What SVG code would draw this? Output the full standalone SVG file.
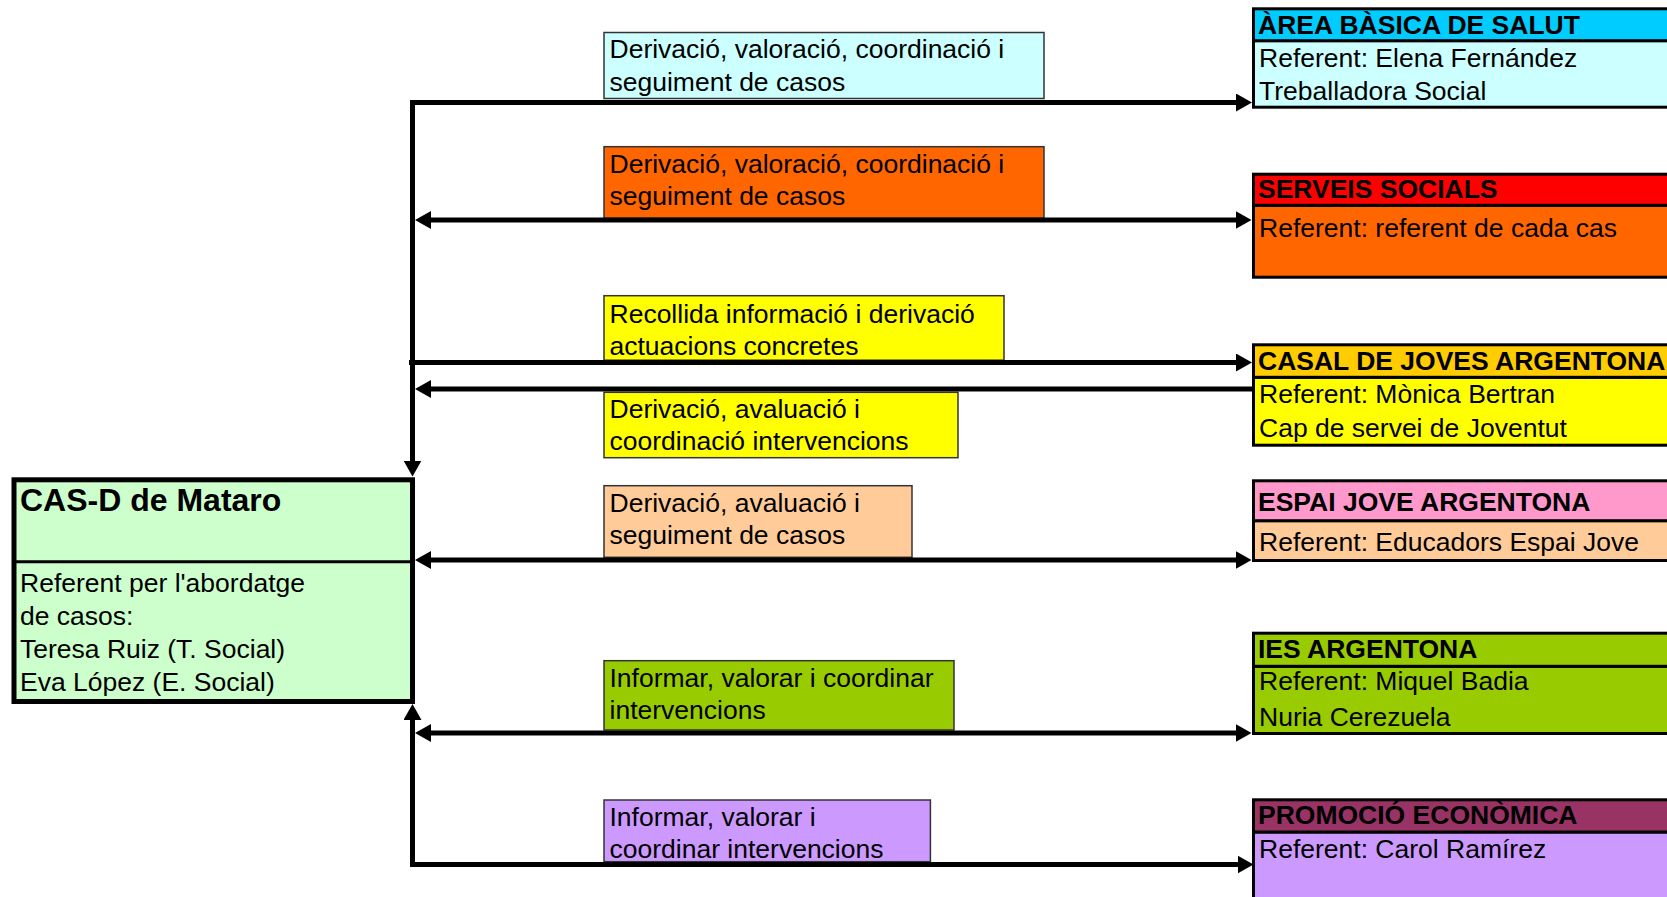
<svg xmlns="http://www.w3.org/2000/svg" width="1667" height="897" viewBox="0 0 1667 897">
<style>
text{font-family:"Liberation Sans",Arial,sans-serif;font-size:26.5px;fill:#000}
.b{font-weight:bold}
.t{font-weight:bold;font-size:32px}
.lbl{stroke:#333;stroke-width:1.5}
.nb{stroke:#000;stroke-width:3}
.dv{stroke:#000;stroke-width:3}
.cn{fill:none;stroke:#000;stroke-width:5}
</style>
<defs>
<marker id="ah" viewBox="0 0 16 18" markerWidth="16" markerHeight="18" markerUnits="userSpaceOnUse" refX="0.5" refY="9" orient="auto-start-reverse"><path d="M0,0 L16,9 L0,18 z" fill="#000"/></marker>
</defs>
<rect width="1667" height="897" fill="#fff"/>

<g id="labels">
<g id="lbl1"><rect class="lbl" x="604" y="32.5" width="440" height="66" fill="#CCFFFF"/><text x="609.5" y="58">Derivació, valoració, coordinació i</text><text x="609.5" y="90.5">seguiment de casos</text></g>
<g id="lbl2"><rect class="lbl" x="604" y="146.7" width="440" height="71.5" fill="#FF6600"/><text x="609.5" y="172.5">Derivació, valoració, coordinació i</text><text x="609.5" y="205">seguiment de casos</text></g>
<g id="lbl3"><rect class="lbl" x="604" y="295.7" width="400" height="64.5" fill="#FFFF00"/><text x="609.5" y="322.5">Recollida informació i derivació</text><text x="609.5" y="354.5">actuacions concretes</text></g>
<g id="lbl4"><rect class="lbl" x="604" y="392.3" width="354" height="65.4" fill="#FFFF00"/><text x="609.5" y="417.5">Derivació, avaluació i</text><text x="609.5" y="449.5">coordinació intervencions</text></g>
<g id="lbl5"><rect class="lbl" x="604" y="485.7" width="308" height="71.6" fill="#FFCC99"/><text x="609.5" y="511.5">Derivació, avaluació i</text><text x="609.5" y="544">seguiment de casos</text></g>
<g id="lbl6"><rect class="lbl" x="604" y="660.7" width="350" height="69.3" fill="#99CC00"/><text x="609.5" y="686.5">Informar, valorar i coordinar</text><text x="609.5" y="719">intervencions</text></g>
<g id="lbl7"><rect class="lbl" x="604" y="800" width="326.4" height="61.7" fill="#CC99FF"/><text x="609.5" y="825.5">Informar, valorar i</text><text x="609.5" y="858">coordinar intervencions</text></g>
</g>

<g id="connectors">
<path class="cn" d="M412.5,461 V102.5 H1236.5" marker-start="url(#ah)" marker-end="url(#ah)"/>
<path class="cn" d="M430.5,220 H1236" marker-start="url(#ah)" marker-end="url(#ah)"/>
<path class="cn" d="M409,362.5 H1236.5" marker-end="url(#ah)"/>
<path class="cn" d="M430.5,389 H1252"  marker-start="url(#ah)"/>
<path class="cn" d="M430.5,560 H1236" marker-start="url(#ah)" marker-end="url(#ah)"/>
<path class="cn" d="M430.5,733 H1236" marker-start="url(#ah)" marker-end="url(#ah)"/>
<path class="cn" d="M412.5,719.5 V864.5 H1238" marker-start="url(#ah)" marker-end="url(#ah)"/>
</g>

<g id="casd">
<rect x="14" y="479.8" width="398.5" height="221.7" fill="#CCFFCC" stroke="#000" stroke-width="5"/>
<line class="dv" x1="14" y1="561.7" x2="412.5" y2="561.7"/>
<text class="t" x="20" y="511">CAS-D de Mataro</text>
<text x="20" y="591.5">Referent per l'abordatge</text>
<text x="20" y="624.5">de casos:</text>
<text x="20" y="657.5">Teresa Ruiz (T. Social)</text>
<text x="20" y="690.5">Eva López (E. Social)</text>
</g>

<g id="abs">
<rect class="nb" x="1253.5" y="40.7" width="450" height="66.5" fill="#CCFFFF"/>
<rect class="nb" x="1253.5" y="8.8" width="450" height="31.9" fill="#00CCFF"/>
<text class="b" x="1258" y="34.3">ÀREA BÀSICA DE SALUT</text>
<text x="1259" y="66.7">Referent: Elena Fernández</text>
<text x="1259" y="100">Treballadora Social</text>
</g>

<g id="ss">
<rect class="nb" x="1253.5" y="205.3" width="450" height="71.9" fill="#FF6600"/>
<rect class="nb" x="1253.5" y="174.2" width="450" height="31.1" fill="#FF0000"/>
<text class="b" x="1258" y="197.8">SERVEIS SOCIALS</text>
<text x="1259" y="237">Referent: referent de cada cas</text>
</g>

<g id="casal">
<rect class="nb" x="1253.5" y="377.3" width="450" height="67.9" fill="#FFFF00"/>
<rect class="nb" x="1253.5" y="344.8" width="450" height="32.5" fill="#FFCC00"/>
<text class="b" x="1258" y="369.6">CASAL DE JOVES ARGENTONA</text>
<text x="1259" y="402.7">Referent: Mònica Bertran</text>
<text x="1259" y="436.7">Cap de servei de Joventut</text>
</g>

<g id="espai">
<rect class="nb" x="1253.5" y="520.7" width="450" height="39.8" fill="#FFCC99"/>
<rect class="nb" x="1253.5" y="480.8" width="450" height="39.9" fill="#FF99CC"/>
<text class="b" x="1258" y="510.5">ESPAI JOVE ARGENTONA</text>
<text x="1259" y="551">Referent: Educadors Espai Jove</text>
</g>

<g id="ies">
<rect class="nb" x="1253.5" y="666.3" width="450" height="67.2" fill="#99CC00"/>
<rect class="nb" x="1253.5" y="633.2" width="450" height="33.1" fill="#99CC00"/>
<text class="b" x="1258" y="657.7">IES ARGENTONA</text>
<text x="1259" y="690.3">Referent: Miquel Badia</text>
<text x="1259" y="725.7">Nuria Cerezuela</text>
</g>

<g id="promo">
<rect class="nb" x="1253.5" y="832" width="450" height="100" fill="#CC99FF"/>
<rect class="nb" x="1253.5" y="799.8" width="450" height="32.2" fill="#993366"/>
<text class="b" x="1258" y="823.6">PROMOCIÓ ECONÒMICA</text>
<text x="1259" y="857.5">Referent: Carol Ramírez</text>
</g>
</svg>
